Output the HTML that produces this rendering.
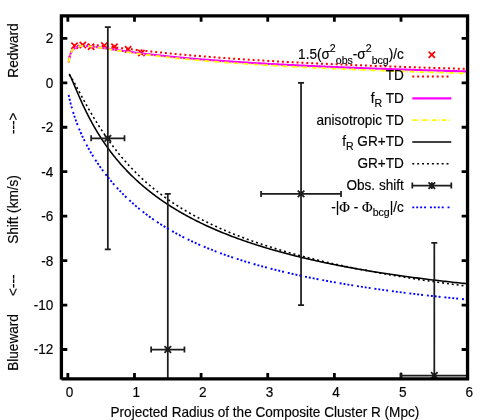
<!DOCTYPE html>
<html><head><meta charset="utf-8"><title>plot</title>
<style>html,body{margin:0;padding:0;background:#fff;}svg{display:block;}text{font-family:"Liberation Sans",sans-serif;fill:#000;stroke:#000;stroke-width:0.15px;}</style>
</head><body>
<div style="will-change:transform;width:491px;height:420px">
<svg width="491" height="420" viewBox="0 0 491 420">
<rect x="0" y="0" width="491" height="420" fill="#fff"/>
<defs><clipPath id="cp"><rect x="61.4" y="15.9" width="406.15000000000003" height="363.0"/></clipPath></defs>
<path d="M67.85,378.9 V373.0 M67.85,15.9 V21.8 M134.48,378.9 V373.0 M134.48,15.9 V21.8 M201.11,378.9 V373.0 M201.11,15.9 V21.8 M267.74,378.9 V373.0 M267.74,15.9 V21.8 M334.37,378.9 V373.0 M334.37,15.9 V21.8 M401.00,378.9 V373.0 M401.00,15.9 V21.8 M467.63,378.9 V373.0 M467.63,15.9 V21.8 M61.4,349.50 H67.3 M467.55,349.50 H461.65000000000003 M61.4,305.05 H67.3 M467.55,305.05 H461.65000000000003 M61.4,260.60 H67.3 M467.55,260.60 H461.65000000000003 M61.4,216.15 H67.3 M467.55,216.15 H461.65000000000003 M61.4,171.70 H67.3 M467.55,171.70 H461.65000000000003 M61.4,127.25 H67.3 M467.55,127.25 H461.65000000000003 M61.4,82.80 H67.3 M467.55,82.80 H461.65000000000003 M61.4,38.35 H67.3 M467.55,38.35 H461.65000000000003" stroke="#000" stroke-width="2.8" fill="none"/>
<text transform="translate(69.55,397.20) scale(1,1.02)" font-size="13.6" text-anchor="middle">0</text>
<text transform="translate(136.18,397.20) scale(1,1.02)" font-size="13.6" text-anchor="middle">1</text>
<text transform="translate(202.81,397.20) scale(1,1.02)" font-size="13.6" text-anchor="middle">2</text>
<text transform="translate(269.44,397.20) scale(1,1.02)" font-size="13.6" text-anchor="middle">3</text>
<text transform="translate(336.07,397.20) scale(1,1.02)" font-size="13.6" text-anchor="middle">4</text>
<text transform="translate(402.70,397.20) scale(1,1.02)" font-size="13.6" text-anchor="middle">5</text>
<text transform="translate(469.33,397.20) scale(1,1.02)" font-size="13.6" text-anchor="middle">6</text>
<text transform="translate(53.30,354.40) scale(1,1.02)" font-size="13.6" text-anchor="end">-12</text>
<text transform="translate(53.30,309.95) scale(1,1.02)" font-size="13.6" text-anchor="end">-10</text>
<text transform="translate(53.30,265.50) scale(1,1.02)" font-size="13.6" text-anchor="end">-8</text>
<text transform="translate(53.30,221.05) scale(1,1.02)" font-size="13.6" text-anchor="end">-6</text>
<text transform="translate(53.30,176.60) scale(1,1.02)" font-size="13.6" text-anchor="end">-4</text>
<text transform="translate(53.30,132.15) scale(1,1.02)" font-size="13.6" text-anchor="end">-2</text>
<text transform="translate(53.30,87.70) scale(1,1.02)" font-size="13.6" text-anchor="end">0</text>
<text transform="translate(53.30,43.25) scale(1,1.02)" font-size="13.6" text-anchor="end">2</text>
<g clip-path="url(#cp)" fill="none">
<path d="M71.35,42.550000000000004 L77.65,48.85 M71.35,48.85 L77.65,42.550000000000004 M79.64999999999999,41.85 L85.95,48.15 M79.64999999999999,48.15 L85.95,41.85 M87.94999999999999,43.550000000000004 L94.25,49.85 M87.94999999999999,49.85 L94.25,43.550000000000004 M101.25,42.45 L107.55000000000001,48.75 M101.25,48.75 L107.55000000000001,42.45 M111.35,43.550000000000004 L117.65,49.85 M111.35,49.85 L117.65,43.550000000000004 M124.94999999999999,46.15 L131.25,52.449999999999996 M124.94999999999999,52.449999999999996 L131.25,46.15 M138.25,49.85 L144.55,56.15 M138.25,56.15 L144.55,49.85" stroke="#f00" stroke-width="1.7"/>
<path d="M68.72,62.27 L68.81,61.51 L68.90,60.78 L69.00,60.08 L69.11,59.40 L69.22,58.75 L69.33,58.12 L69.45,57.52 L69.57,56.94 L69.70,56.38 L69.83,55.84 L69.97,55.33 L70.11,54.83 L70.26,54.35 L70.41,53.89 L70.56,53.45 L70.72,53.02 L70.89,52.61 L71.06,52.22 L71.23,51.84 L71.41,51.47 L71.59,51.13 L71.78,50.79 L71.97,50.47 L72.17,50.16 L72.37,49.86 L72.57,49.58 L72.78,49.31 L73.00,49.05 L73.22,48.80 L73.44,48.56 L73.67,48.33 L73.90,48.11 L74.14,47.90 L74.38,47.70 L74.63,47.51 L74.88,47.33 L75.13,47.15 L75.39,46.99 L75.66,46.83 L75.93,46.68 L76.20,46.54 L76.48,46.40 L76.76,46.27 L77.05,46.15 L77.34,46.03 L77.64,45.92 L77.94,45.82 L78.24,45.72 L78.56,45.63 L78.87,45.55 L79.19,45.46 L79.51,45.39 L79.84,45.32 L80.18,45.25 L80.51,45.19 L80.86,45.14 L81.20,45.08 L81.55,45.04 L81.91,44.99 L82.27,44.95 L82.64,44.92 L83.01,44.89 L83.38,44.86 L83.76,44.83 L84.14,44.81 L84.53,44.79 L84.92,44.78 L85.32,44.77 L85.72,44.76 L86.13,44.76 L86.54,44.75 L86.95,44.76 L87.37,44.76 L87.80,44.77 L88.23,44.77 L88.66,44.79 L89.10,44.80 L89.54,44.82 L89.99,44.84 L90.44,44.86 L90.90,44.88 L91.36,44.91 L91.82,44.93 L92.29,44.96 L92.77,44.99 L93.25,45.03 L93.73,45.06 L94.22,45.10 L94.71,45.14 L95.21,45.18 L95.71,45.22 L96.22,45.27 L96.73,45.31 L97.25,45.36 L97.77,45.41 L98.29,45.46 L98.82,45.51 L99.36,45.56 L99.89,45.62 L100.44,45.67 L100.99,45.73 L101.54,45.79 L102.10,45.85 L102.66,45.91 L103.22,45.97 L103.79,46.03 L104.37,46.10 L104.95,46.16 L105.53,46.23 L106.12,46.29 L106.71,46.36 L107.31,46.43 L107.92,46.50 L108.52,46.57 L109.13,46.64 L109.75,46.72 L110.37,46.79 L111.00,46.86 L111.63,46.94 L112.26,47.01 L112.90,47.09 L113.54,47.17 L114.19,47.24 L114.84,47.32 L115.50,47.40 L116.16,47.48 L116.83,47.56 L117.50,47.64 L118.18,47.72 L118.86,47.81 L119.54,47.89 L120.23,47.97 L120.93,48.06 L121.62,48.14 L122.33,48.22 L123.03,48.31 L123.75,48.40 L124.46,48.48 L125.18,48.57 L125.91,48.65 L126.64,48.74 L127.38,48.83 L128.12,48.92 L128.86,49.01 L129.61,49.09 L130.36,49.18 L131.12,49.27 L131.88,49.36 L132.65,49.45 L133.42,49.54 L134.20,49.63 L134.98,49.72 L135.76,49.81 L136.55,49.90 L137.35,50.00 L138.15,50.09 L138.95,50.18 L139.76,50.27 L140.57,50.36 L141.39,50.45 L142.21,50.55 L143.03,50.64 L143.87,50.73 L144.70,50.83 L145.54,50.92 L146.39,51.01 L147.23,51.10 L148.09,51.20 L148.95,51.29 L149.81,51.38 L150.68,51.48 L151.55,51.57 L152.42,51.67 L153.31,51.76 L154.19,51.85 L155.08,51.95 L155.98,52.04 L156.88,52.13 L157.78,52.23 L158.69,52.32 L159.60,52.42 L160.52,52.51 L161.44,52.60 L162.37,52.70 L163.30,52.79 L164.23,52.89 L165.18,52.98 L166.12,53.07 L167.07,53.17 L168.02,53.26 L168.98,53.35 L169.95,53.45 L170.91,53.54 L171.89,53.64 L172.86,53.73 L173.84,53.82 L174.83,53.92 L175.82,54.01 L176.82,54.10 L177.82,54.20 L178.82,54.29 L179.83,54.38 L180.84,54.47 L181.86,54.57 L182.88,54.66 L183.91,54.75 L184.94,54.84 L185.98,54.94 L187.02,55.03 L188.07,55.12 L189.12,55.21 L190.17,55.30 L191.23,55.40 L192.29,55.49 L193.36,55.58 L194.43,55.67 L195.51,55.76 L196.59,55.85 L197.68,55.94 L198.77,56.03 L199.87,56.12 L200.97,56.21 L202.07,56.30 L203.18,56.39 L204.29,56.48 L205.41,56.57 L206.54,56.66 L207.66,56.75 L208.80,56.84 L209.93,56.93 L211.07,57.02 L212.22,57.11 L213.37,57.20 L214.53,57.28 L215.69,57.37 L216.85,57.46 L218.02,57.55 L219.19,57.64 L220.37,57.72 L221.55,57.81 L222.74,57.90 L223.93,57.98 L225.13,58.07 L226.33,58.16 L227.53,58.24 L228.74,58.33 L229.96,58.41 L231.18,58.50 L232.40,58.58 L233.63,58.67 L234.86,58.75 L236.10,58.84 L237.34,58.92 L238.58,59.01 L239.84,59.09 L241.09,59.18 L242.35,59.26 L243.62,59.34 L244.88,59.43 L246.16,59.51 L247.44,59.59 L248.72,59.67 L250.01,59.76 L251.30,59.84 L252.60,59.92 L253.90,60.00 L255.20,60.08 L256.51,60.16 L257.83,60.25 L259.15,60.33 L260.47,60.41 L261.80,60.49 L263.13,60.57 L264.47,60.65 L265.81,60.73 L267.16,60.81 L268.51,60.89 L269.87,60.96 L271.23,61.04 L272.59,61.12 L273.96,61.20 L275.34,61.28 L276.71,61.36 L278.10,61.43 L279.49,61.51 L280.88,61.59 L282.27,61.67 L283.68,61.74 L285.08,61.82 L286.49,61.90 L287.91,61.97 L289.33,62.05 L290.75,62.12 L292.18,62.20 L293.62,62.27 L295.05,62.35 L296.50,62.42 L297.94,62.50 L299.40,62.57 L300.85,62.65 L302.31,62.72 L303.78,62.79 L305.25,62.87 L306.72,62.94 L308.20,63.01 L309.69,63.08 L311.17,63.16 L312.67,63.23 L314.16,63.30 L315.67,63.37 L317.17,63.44 L318.68,63.52 L320.20,63.59 L321.72,63.66 L323.24,63.73 L324.77,63.80 L326.31,63.87 L327.85,63.94 L329.39,64.01 L330.94,64.08 L332.49,64.15 L334.05,64.22 L335.61,64.29 L337.17,64.35 L338.74,64.42 L340.32,64.49 L341.90,64.56 L343.48,64.63 L345.07,64.69 L346.66,64.76 L348.26,64.83 L349.87,64.90 L351.47,64.96 L353.08,65.03 L354.70,65.09 L356.32,65.16 L357.95,65.23 L359.58,65.29 L361.21,65.36 L362.85,65.42 L364.49,65.49 L366.14,65.55 L367.79,65.62 L369.45,65.68 L371.11,65.74 L372.78,65.81 L374.45,65.87 L376.13,65.94 L377.81,66.00 L379.49,66.06 L381.18,66.12 L382.87,66.19 L384.57,66.25 L386.27,66.31 L387.98,66.37 L389.69,66.44 L391.41,66.50 L393.13,66.56 L394.86,66.62 L396.59,66.68 L398.32,66.74 L400.06,66.80 L401.81,66.86 L403.55,66.92 L405.31,66.98 L407.07,67.04 L408.83,67.10 L410.59,67.16 L412.37,67.22 L414.14,67.28 L415.92,67.34 L417.71,67.40 L419.50,67.46 L421.29,67.51 L423.09,67.57 L424.89,67.63 L426.70,67.69 L428.51,67.74 L430.33,67.80 L432.15,67.86 L433.98,67.92 L435.81,67.97 L437.64,68.03 L439.48,68.08 L441.33,68.14 L443.18,68.20 L445.03,68.25 L446.89,68.31 L448.75,68.36 L450.62,68.42 L452.49,68.47 L454.37,68.53 L456.25,68.58 L458.13,68.64 L460.02,68.69 L461.92,68.75 L463.82,68.80 L465.72,68.85 L467.63,68.91" stroke="#f00" stroke-width="2" stroke-dasharray="1.96 2.93"/>
<path d="M68.72,62.16 L68.81,61.42 L68.90,60.71 L69.00,60.03 L69.11,59.38 L69.22,58.75 L69.33,58.16 L69.45,57.59 L69.57,57.04 L69.70,56.51 L69.83,56.00 L69.97,55.52 L70.11,55.05 L70.26,54.60 L70.41,54.17 L70.56,53.76 L70.72,53.36 L70.89,52.97 L71.06,52.61 L71.23,52.25 L71.41,51.91 L71.59,51.59 L71.78,51.27 L71.97,50.97 L72.17,50.68 L72.37,50.41 L72.57,50.14 L72.78,49.89 L73.00,49.64 L73.22,49.41 L73.44,49.19 L73.67,48.97 L73.90,48.77 L74.14,48.58 L74.38,48.39 L74.63,48.21 L74.88,48.04 L75.13,47.88 L75.39,47.73 L75.66,47.59 L75.93,47.45 L76.20,47.32 L76.48,47.20 L76.76,47.08 L77.05,46.98 L77.34,46.87 L77.64,46.78 L77.94,46.69 L78.24,46.61 L78.56,46.53 L78.87,46.46 L79.19,46.39 L79.51,46.33 L79.84,46.28 L80.18,46.23 L80.51,46.18 L80.86,46.14 L81.20,46.11 L81.55,46.08 L81.91,46.05 L82.27,46.03 L82.64,46.01 L83.01,46.00 L83.38,45.99 L83.76,45.98 L84.14,45.98 L84.53,45.98 L84.92,45.99 L85.32,46.00 L85.72,46.01 L86.13,46.02 L86.54,46.04 L86.95,46.06 L87.37,46.09 L87.80,46.12 L88.23,46.15 L88.66,46.18 L89.10,46.22 L89.54,46.25 L89.99,46.29 L90.44,46.34 L90.90,46.38 L91.36,46.43 L91.82,46.48 L92.29,46.53 L92.77,46.59 L93.25,46.64 L93.73,46.70 L94.22,46.76 L94.71,46.82 L95.21,46.89 L95.71,46.95 L96.22,47.02 L96.73,47.09 L97.25,47.16 L97.77,47.23 L98.29,47.30 L98.82,47.38 L99.36,47.45 L99.89,47.53 L100.44,47.61 L100.99,47.69 L101.54,47.77 L102.10,47.85 L102.66,47.93 L103.22,48.01 L103.79,48.10 L104.37,48.18 L104.95,48.27 L105.53,48.36 L106.12,48.45 L106.71,48.54 L107.31,48.63 L107.92,48.72 L108.52,48.81 L109.13,48.90 L109.75,48.99 L110.37,49.08 L111.00,49.18 L111.63,49.27 L112.26,49.37 L112.90,49.46 L113.54,49.56 L114.19,49.66 L114.84,49.75 L115.50,49.85 L116.16,49.95 L116.83,50.05 L117.50,50.14 L118.18,50.24 L118.86,50.34 L119.54,50.44 L120.23,50.54 L120.93,50.64 L121.62,50.74 L122.33,50.84 L123.03,50.94 L123.75,51.04 L124.46,51.14 L125.18,51.25 L125.91,51.35 L126.64,51.45 L127.38,51.55 L128.12,51.65 L128.86,51.75 L129.61,51.86 L130.36,51.96 L131.12,52.06 L131.88,52.16 L132.65,52.26 L133.42,52.37 L134.20,52.47 L134.98,52.57 L135.76,52.67 L136.55,52.77 L137.35,52.88 L138.15,52.98 L138.95,53.08 L139.76,53.18 L140.57,53.28 L141.39,53.39 L142.21,53.49 L143.03,53.59 L143.87,53.69 L144.70,53.79 L145.54,53.89 L146.39,53.99 L147.23,54.10 L148.09,54.20 L148.95,54.30 L149.81,54.40 L150.68,54.50 L151.55,54.60 L152.42,54.70 L153.31,54.80 L154.19,54.90 L155.08,55.00 L155.98,55.10 L156.88,55.20 L157.78,55.30 L158.69,55.40 L159.60,55.50 L160.52,55.59 L161.44,55.69 L162.37,55.79 L163.30,55.89 L164.23,55.99 L165.18,56.09 L166.12,56.18 L167.07,56.28 L168.02,56.38 L168.98,56.47 L169.95,56.57 L170.91,56.67 L171.89,56.76 L172.86,56.86 L173.84,56.95 L174.83,57.05 L175.82,57.15 L176.82,57.24 L177.82,57.34 L178.82,57.43 L179.83,57.52 L180.84,57.62 L181.86,57.71 L182.88,57.81 L183.91,57.90 L184.94,57.99 L185.98,58.08 L187.02,58.18 L188.07,58.27 L189.12,58.36 L190.17,58.45 L191.23,58.54 L192.29,58.64 L193.36,58.73 L194.43,58.82 L195.51,58.91 L196.59,59.00 L197.68,59.09 L198.77,59.18 L199.87,59.27 L200.97,59.36 L202.07,59.45 L203.18,59.53 L204.29,59.62 L205.41,59.71 L206.54,59.80 L207.66,59.89 L208.80,59.97 L209.93,60.06 L211.07,60.15 L212.22,60.23 L213.37,60.32 L214.53,60.41 L215.69,60.49 L216.85,60.58 L218.02,60.66 L219.19,60.75 L220.37,60.83 L221.55,60.92 L222.74,61.00 L223.93,61.09 L225.13,61.17 L226.33,61.25 L227.53,61.34 L228.74,61.42 L229.96,61.50 L231.18,61.58 L232.40,61.67 L233.63,61.75 L234.86,61.83 L236.10,61.91 L237.34,61.99 L238.58,62.07 L239.84,62.15 L241.09,62.23 L242.35,62.31 L243.62,62.39 L244.88,62.47 L246.16,62.55 L247.44,62.63 L248.72,62.71 L250.01,62.79 L251.30,62.87 L252.60,62.95 L253.90,63.02 L255.20,63.10 L256.51,63.18 L257.83,63.26 L259.15,63.33 L260.47,63.41 L261.80,63.48 L263.13,63.56 L264.47,63.64 L265.81,63.71 L267.16,63.79 L268.51,63.86 L269.87,63.94 L271.23,64.01 L272.59,64.09 L273.96,64.16 L275.34,64.23 L276.71,64.31 L278.10,64.38 L279.49,64.45 L280.88,64.53 L282.27,64.60 L283.68,64.67 L285.08,64.75 L286.49,64.82 L287.91,64.89 L289.33,64.96 L290.75,65.03 L292.18,65.10 L293.62,65.17 L295.05,65.24 L296.50,65.32 L297.94,65.39 L299.40,65.46 L300.85,65.53 L302.31,65.59 L303.78,65.66 L305.25,65.73 L306.72,65.80 L308.20,65.87 L309.69,65.94 L311.17,66.01 L312.67,66.08 L314.16,66.14 L315.67,66.21 L317.17,66.28 L318.68,66.34 L320.20,66.41 L321.72,66.48 L323.24,66.54 L324.77,66.61 L326.31,66.68 L327.85,66.74 L329.39,66.81 L330.94,66.87 L332.49,66.94 L334.05,67.00 L335.61,67.07 L337.17,67.13 L338.74,67.20 L340.32,67.26 L341.90,67.33 L343.48,67.39 L345.07,67.45 L346.66,67.52 L348.26,67.58 L349.87,67.64 L351.47,67.71 L353.08,67.77 L354.70,67.83 L356.32,67.89 L357.95,67.96 L359.58,68.02 L361.21,68.08 L362.85,68.14 L364.49,68.20 L366.14,68.26 L367.79,68.32 L369.45,68.38 L371.11,68.45 L372.78,68.51 L374.45,68.57 L376.13,68.63 L377.81,68.69 L379.49,68.75 L381.18,68.80 L382.87,68.86 L384.57,68.92 L386.27,68.98 L387.98,69.04 L389.69,69.10 L391.41,69.16 L393.13,69.22 L394.86,69.27 L396.59,69.33 L398.32,69.39 L400.06,69.45 L401.81,69.50 L403.55,69.56 L405.31,69.62 L407.07,69.67 L408.83,69.73 L410.59,69.79 L412.37,69.84 L414.14,69.90 L415.92,69.96 L417.71,70.01 L419.50,70.07 L421.29,70.12 L423.09,70.18 L424.89,70.23 L426.70,70.29 L428.51,70.34 L430.33,70.40 L432.15,70.45 L433.98,70.51 L435.81,70.56 L437.64,70.61 L439.48,70.67 L441.33,70.72 L443.18,70.78 L445.03,70.83 L446.89,70.88 L448.75,70.93 L450.62,70.99 L452.49,71.04 L454.37,71.09 L456.25,71.15 L458.13,71.20 L460.02,71.25 L461.92,71.30 L463.82,71.35 L465.72,71.41 L467.63,71.46" stroke="#f0f" stroke-width="2.1"/>
<path d="M68.72,62.17 L68.81,61.43 L68.90,60.72 L69.00,60.04 L69.11,59.39 L69.22,58.77 L69.33,58.17 L69.45,57.60 L69.57,57.05 L69.70,56.53 L69.83,56.02 L69.97,55.53 L70.11,55.06 L70.26,54.61 L70.41,54.18 L70.56,53.76 L70.72,53.36 L70.89,52.98 L71.06,52.61 L71.23,52.25 L71.41,51.91 L71.59,51.58 L71.78,51.26 L71.97,50.96 L72.17,50.67 L72.37,50.39 L72.57,50.12 L72.78,49.87 L73.00,49.62 L73.22,49.39 L73.44,49.16 L73.67,48.95 L73.90,48.74 L74.14,48.54 L74.38,48.36 L74.63,48.18 L74.88,48.01 L75.13,47.85 L75.39,47.70 L75.66,47.55 L75.93,47.41 L76.20,47.28 L76.48,47.16 L76.76,47.05 L77.05,46.94 L77.34,46.84 L77.64,46.74 L77.94,46.65 L78.24,46.57 L78.56,46.49 L78.87,46.42 L79.19,46.36 L79.51,46.30 L79.84,46.24 L80.18,46.20 L80.51,46.15 L80.86,46.11 L81.20,46.08 L81.55,46.05 L81.91,46.03 L82.27,46.01 L82.64,45.99 L83.01,45.98 L83.38,45.98 L83.76,45.98 L84.14,45.98 L84.53,45.98 L84.92,45.99 L85.32,46.00 L85.72,46.02 L86.13,46.04 L86.54,46.06 L86.95,46.09 L87.37,46.12 L87.80,46.15 L88.23,46.18 L88.66,46.22 L89.10,46.26 L89.54,46.31 L89.99,46.35 L90.44,46.40 L90.90,46.45 L91.36,46.51 L91.82,46.56 L92.29,46.62 L92.77,46.68 L93.25,46.74 L93.73,46.81 L94.22,46.87 L94.71,46.94 L95.21,47.01 L95.71,47.08 L96.22,47.16 L96.73,47.23 L97.25,47.31 L97.77,47.39 L98.29,47.47 L98.82,47.55 L99.36,47.63 L99.89,47.72 L100.44,47.80 L100.99,47.89 L101.54,47.98 L102.10,48.06 L102.66,48.15 L103.22,48.25 L103.79,48.34 L104.37,48.43 L104.95,48.53 L105.53,48.62 L106.12,48.72 L106.71,48.82 L107.31,48.91 L107.92,49.01 L108.52,49.11 L109.13,49.21 L109.75,49.31 L110.37,49.41 L111.00,49.52 L111.63,49.62 L112.26,49.72 L112.90,49.83 L113.54,49.93 L114.19,50.04 L114.84,50.14 L115.50,50.25 L116.16,50.35 L116.83,50.46 L117.50,50.57 L118.18,50.67 L118.86,50.78 L119.54,50.89 L120.23,51.00 L120.93,51.11 L121.62,51.22 L122.33,51.32 L123.03,51.43 L123.75,51.54 L124.46,51.65 L125.18,51.76 L125.91,51.87 L126.64,51.98 L127.38,52.09 L128.12,52.20 L128.86,52.31 L129.61,52.43 L130.36,52.54 L131.12,52.65 L131.88,52.76 L132.65,52.87 L133.42,52.98 L134.20,53.09 L134.98,53.20 L135.76,53.31 L136.55,53.42 L137.35,53.53 L138.15,53.64 L138.95,53.75 L139.76,53.86 L140.57,53.98 L141.39,54.09 L142.21,54.20 L143.03,54.31 L143.87,54.42 L144.70,54.53 L145.54,54.64 L146.39,54.75 L147.23,54.85 L148.09,54.96 L148.95,55.07 L149.81,55.18 L150.68,55.29 L151.55,55.40 L152.42,55.51 L153.31,55.62 L154.19,55.73 L155.08,55.83 L155.98,55.94 L156.88,56.05 L157.78,56.16 L158.69,56.26 L159.60,56.37 L160.52,56.48 L161.44,56.58 L162.37,56.69 L163.30,56.80 L164.23,56.90 L165.18,57.01 L166.12,57.11 L167.07,57.22 L168.02,57.32 L168.98,57.43 L169.95,57.53 L170.91,57.64 L171.89,57.74 L172.86,57.84 L173.84,57.95 L174.83,58.05 L175.82,58.15 L176.82,58.25 L177.82,58.36 L178.82,58.46 L179.83,58.56 L180.84,58.66 L181.86,58.76 L182.88,58.86 L183.91,58.96 L184.94,59.07 L185.98,59.17 L187.02,59.26 L188.07,59.36 L189.12,59.46 L190.17,59.56 L191.23,59.66 L192.29,59.76 L193.36,59.86 L194.43,59.95 L195.51,60.05 L196.59,60.15 L197.68,60.25 L198.77,60.34 L199.87,60.44 L200.97,60.54 L202.07,60.63 L203.18,60.73 L204.29,60.82 L205.41,60.92 L206.54,61.01 L207.66,61.10 L208.80,61.20 L209.93,61.29 L211.07,61.39 L212.22,61.48 L213.37,61.57 L214.53,61.66 L215.69,61.76 L216.85,61.85 L218.02,61.94 L219.19,62.03 L220.37,62.12 L221.55,62.21 L222.74,62.30 L223.93,62.39 L225.13,62.48 L226.33,62.57 L227.53,62.66 L228.74,62.75 L229.96,62.84 L231.18,62.93 L232.40,63.01 L233.63,63.10 L234.86,63.19 L236.10,63.28 L237.34,63.36 L238.58,63.45 L239.84,63.54 L241.09,63.62 L242.35,63.71 L243.62,63.79 L244.88,63.88 L246.16,63.96 L247.44,64.05 L248.72,64.13 L250.01,64.22 L251.30,64.30 L252.60,64.38 L253.90,64.47 L255.20,64.55 L256.51,64.63 L257.83,64.71 L259.15,64.80 L260.47,64.88 L261.80,64.96 L263.13,65.04 L264.47,65.12 L265.81,65.20 L267.16,65.28 L268.51,65.36 L269.87,65.44 L271.23,65.52 L272.59,65.60 L273.96,65.68 L275.34,65.76 L276.71,65.84 L278.10,65.92 L279.49,65.99 L280.88,66.07 L282.27,66.15 L283.68,66.23 L285.08,66.30 L286.49,66.38 L287.91,66.46 L289.33,66.53 L290.75,66.61 L292.18,66.68 L293.62,66.76 L295.05,66.84 L296.50,66.91 L297.94,66.98 L299.40,67.06 L300.85,67.13 L302.31,67.21 L303.78,67.28 L305.25,67.35 L306.72,67.43 L308.20,67.50 L309.69,67.57 L311.17,67.65 L312.67,67.72 L314.16,67.79 L315.67,67.86 L317.17,67.93 L318.68,68.00 L320.20,68.08 L321.72,68.15 L323.24,68.22 L324.77,68.29 L326.31,68.36 L327.85,68.43 L329.39,68.50 L330.94,68.57 L332.49,68.63 L334.05,68.70 L335.61,68.77 L337.17,68.84 L338.74,68.91 L340.32,68.98 L341.90,69.04 L343.48,69.11 L345.07,69.18 L346.66,69.25 L348.26,69.31 L349.87,69.38 L351.47,69.45 L353.08,69.51 L354.70,69.58 L356.32,69.64 L357.95,69.71 L359.58,69.78 L361.21,69.84 L362.85,69.91 L364.49,69.97 L366.14,70.04 L367.79,70.10 L369.45,70.16 L371.11,70.23 L372.78,70.29 L374.45,70.35 L376.13,70.42 L377.81,70.48 L379.49,70.54 L381.18,70.61 L382.87,70.67 L384.57,70.73 L386.27,70.79 L387.98,70.86 L389.69,70.92 L391.41,70.98 L393.13,71.04 L394.86,71.10 L396.59,71.16 L398.32,71.22 L400.06,71.28 L401.81,71.34 L403.55,71.40 L405.31,71.46 L407.07,71.52 L408.83,71.58 L410.59,71.64 L412.37,71.70 L414.14,71.76 L415.92,71.82 L417.71,71.88 L419.50,71.94 L421.29,71.99 L423.09,72.05 L424.89,72.11 L426.70,72.17 L428.51,72.23 L430.33,72.28 L432.15,72.34 L433.98,72.40 L435.81,72.45 L437.64,72.51 L439.48,72.57 L441.33,72.62 L443.18,72.68 L445.03,72.74 L446.89,72.79 L448.75,72.85 L450.62,72.90 L452.49,72.96 L454.37,73.01 L456.25,73.07 L458.13,73.12 L460.02,73.18 L461.92,73.23 L463.82,73.29 L465.72,73.34 L467.63,73.39" stroke="#ff0" stroke-width="1.8" stroke-dasharray="4.89 1.96 0.98 1.96"/>
<path d="M69.18,73.79 L69.29,74.00 L69.41,74.23 L69.53,74.47 L69.65,74.71 L69.78,74.98 L69.92,75.25 L70.05,75.54 L70.20,75.83 L70.34,76.15 L70.50,76.47 L70.65,76.80 L70.81,77.15 L70.98,77.51 L71.15,77.89 L71.32,78.27 L71.50,78.67 L71.68,79.09 L71.87,79.51 L72.06,79.95 L72.25,80.40 L72.46,80.86 L72.66,81.33 L72.87,81.82 L73.08,82.32 L73.30,82.83 L73.52,83.35 L73.75,83.88 L73.98,84.43 L74.22,84.99 L74.46,85.55 L74.70,86.13 L74.95,86.72 L75.21,87.32 L75.47,87.93 L75.73,88.55 L76.00,89.18 L76.27,89.82 L76.54,90.47 L76.83,91.12 L77.11,91.79 L77.40,92.47 L77.69,93.15 L77.99,93.84 L78.30,94.54 L78.60,95.25 L78.92,95.97 L79.23,96.69 L79.55,97.42 L79.88,98.15 L80.21,98.90 L80.54,99.65 L80.88,100.40 L81.22,101.16 L81.57,101.93 L81.92,102.70 L82.28,103.48 L82.64,104.26 L83.01,105.05 L83.38,105.84 L83.75,106.63 L84.13,107.43 L84.51,108.24 L84.90,109.04 L85.29,109.86 L85.69,110.67 L86.09,111.49 L86.50,112.31 L86.91,113.13 L87.32,113.96 L87.74,114.79 L88.16,115.62 L88.59,116.45 L89.02,117.28 L89.46,118.12 L89.90,118.96 L90.35,119.80 L90.80,120.64 L91.25,121.48 L91.71,122.33 L92.17,123.17 L92.64,124.02 L93.11,124.86 L93.59,125.71 L94.07,126.56 L94.56,127.40 L95.05,128.25 L95.54,129.10 L96.04,129.94 L96.55,130.79 L97.05,131.64 L97.57,132.49 L98.08,133.33 L98.60,134.18 L99.13,135.02 L99.66,135.87 L100.20,136.71 L100.74,137.55 L101.28,138.40 L101.83,139.24 L102.38,140.08 L102.94,140.91 L103.50,141.75 L104.06,142.59 L104.64,143.42 L105.21,144.25 L105.79,145.08 L106.37,145.91 L106.96,146.74 L107.55,147.57 L108.15,148.39 L108.75,149.22 L109.36,150.04 L109.97,150.86 L110.59,151.67 L111.21,152.49 L111.83,153.30 L112.46,154.11 L113.09,154.92 L113.73,155.73 L114.37,156.53 L115.02,157.33 L115.67,158.13 L116.32,158.93 L116.98,159.72 L117.65,160.52 L118.32,161.31 L118.99,162.09 L119.67,162.88 L120.35,163.66 L121.03,164.44 L121.73,165.22 L122.42,165.99 L123.12,166.77 L123.82,167.54 L124.53,168.30 L125.25,169.07 L125.96,169.83 L126.69,170.59 L127.41,171.34 L128.14,172.10 L128.88,172.85 L129.62,173.60 L130.36,174.34 L131.11,175.08 L131.87,175.82 L132.62,176.56 L133.39,177.29 L134.15,178.03 L134.92,178.75 L135.70,179.48 L136.48,180.20 L137.27,180.92 L138.05,181.64 L138.85,182.35 L139.65,183.06 L140.45,183.77 L141.25,184.48 L142.07,185.18 L142.88,185.88 L143.70,186.58 L144.53,187.27 L145.36,187.96 L146.19,188.65 L147.03,189.33 L147.87,190.01 L148.72,190.69 L149.57,191.37 L150.42,192.04 L151.29,192.71 L152.15,193.38 L153.02,194.04 L153.89,194.71 L154.77,195.36 L155.65,196.02 L156.54,196.67 L157.43,197.32 L158.33,197.97 L159.23,198.61 L160.13,199.26 L161.04,199.89 L161.96,200.53 L162.88,201.16 L163.80,201.79 L164.73,202.42 L165.66,203.04 L166.59,203.66 L167.53,204.28 L168.48,204.90 L169.43,205.51 L170.38,206.12 L171.34,206.72 L172.30,207.33 L173.27,207.93 L174.24,208.53 L175.22,209.12 L176.20,209.72 L177.19,210.31 L178.18,210.89 L179.17,211.48 L180.17,212.06 L181.17,212.64 L182.18,213.21 L183.19,213.79 L184.21,214.36 L185.23,214.93 L186.25,215.49 L187.28,216.05 L188.32,216.61 L189.36,217.17 L190.40,217.72 L191.45,218.28 L192.50,218.82 L193.56,219.37 L194.62,219.91 L195.68,220.45 L196.75,220.99 L197.83,221.53 L198.91,222.06 L199.99,222.59 L201.08,223.12 L202.17,223.64 L203.27,224.17 L204.37,224.69 L205.47,225.20 L206.58,225.72 L207.70,226.23 L208.82,226.74 L209.94,227.25 L211.07,227.75 L212.20,228.25 L213.34,228.75 L214.48,229.25 L215.62,229.74 L216.77,230.24 L217.93,230.73 L219.09,231.21 L220.25,231.70 L221.42,232.18 L222.59,232.66 L223.77,233.14 L224.95,233.61 L226.14,234.08 L227.33,234.55 L228.52,235.02 L229.72,235.49 L230.93,235.95 L232.13,236.41 L233.35,236.87 L234.56,237.32 L235.78,237.78 L237.01,238.23 L238.24,238.68 L239.48,239.12 L240.72,239.57 L241.96,240.01 L243.21,240.45 L244.46,240.88 L245.72,241.32 L246.98,241.75 L248.25,242.18 L249.52,242.61 L250.79,243.04 L252.07,243.46 L253.36,243.88 L254.64,244.30 L255.94,244.72 L257.23,245.13 L258.54,245.55 L259.84,245.96 L261.15,246.36 L262.47,246.77 L263.79,247.17 L265.11,247.58 L266.44,247.98 L267.77,248.37 L269.11,248.77 L270.45,249.16 L271.80,249.55 L273.15,249.94 L274.51,250.33 L275.87,250.72 L277.23,251.10 L278.60,251.48 L279.97,251.86 L281.35,252.24 L282.73,252.61 L284.12,252.98 L285.51,253.35 L286.90,253.72 L288.30,254.09 L289.71,254.46 L291.12,254.82 L292.53,255.18 L293.95,255.54 L295.37,255.89 L296.80,256.25 L298.23,256.60 L299.66,256.95 L301.10,257.30 L302.55,257.65 L304.00,258.00 L305.45,258.34 L306.91,258.68 L308.37,259.02 L309.84,259.36 L311.31,259.70 L312.79,260.03 L314.27,260.36 L315.75,260.69 L317.24,261.02 L318.73,261.35 L320.23,261.67 L321.73,262.00 L323.24,262.32 L324.75,262.64 L326.27,262.96 L327.79,263.27 L329.31,263.59 L330.84,263.90 L332.38,264.21 L333.91,264.52 L335.46,264.83 L337.00,265.13 L338.56,265.44 L340.11,265.74 L341.67,266.04 L343.24,266.34 L344.81,266.63 L346.38,266.93 L347.96,267.22 L349.54,267.51 L351.13,267.80 L352.72,268.09 L354.32,268.38 L355.92,268.67 L357.52,268.95 L359.13,269.23 L360.75,269.51 L362.36,269.79 L363.99,270.07 L365.61,270.34 L367.25,270.62 L368.88,270.89 L370.52,271.16 L372.17,271.43 L373.82,271.70 L375.47,271.96 L377.13,272.23 L378.79,272.49 L380.46,272.75 L382.13,273.01 L383.81,273.27 L385.49,273.53 L387.18,273.78 L388.87,274.03 L390.56,274.29 L392.26,274.54 L393.96,274.79 L395.67,275.03 L397.38,275.28 L399.10,275.52 L400.82,275.77 L402.54,276.01 L404.27,276.25 L406.01,276.49 L407.75,276.73 L409.49,276.96 L411.24,277.20 L412.99,277.43 L414.75,277.66 L416.51,277.89 L418.27,278.12 L420.04,278.35 L421.82,278.57 L423.60,278.80 L425.38,279.02 L427.17,279.24 L428.96,279.46 L430.76,279.68 L432.56,279.90 L434.36,280.12 L436.17,280.33 L437.99,280.54 L439.81,280.76 L441.63,280.97 L443.46,281.18 L445.29,281.38 L447.13,281.59 L448.97,281.80 L450.82,282.00 L452.67,282.20 L454.52,282.41 L456.38,282.61 L458.24,282.80 L460.11,283.00 L461.99,283.20 L463.86,283.39 L465.74,283.59 L467.63,283.78" stroke="#000" stroke-width="1.55"/>
<path d="M69.18,74.63 L69.29,74.76 L69.41,74.91 L69.53,75.06 L69.65,75.22 L69.78,75.39 L69.92,75.57 L70.05,75.76 L70.20,75.96 L70.34,76.17 L70.50,76.39 L70.65,76.62 L70.81,76.86 L70.98,77.11 L71.15,77.37 L71.32,77.64 L71.50,77.92 L71.68,78.21 L71.87,78.51 L72.06,78.83 L72.25,79.15 L72.46,79.48 L72.66,79.83 L72.87,80.19 L73.08,80.55 L73.30,80.93 L73.52,81.32 L73.75,81.72 L73.98,82.13 L74.22,82.55 L74.46,82.98 L74.70,83.42 L74.95,83.87 L75.21,84.33 L75.47,84.80 L75.73,85.29 L76.00,85.78 L76.27,86.28 L76.54,86.79 L76.83,87.31 L77.11,87.84 L77.40,88.38 L77.69,88.93 L77.99,89.48 L78.30,90.05 L78.60,90.62 L78.92,91.20 L79.23,91.80 L79.55,92.39 L79.88,93.00 L80.21,93.62 L80.54,94.24 L80.88,94.87 L81.22,95.51 L81.57,96.15 L81.92,96.81 L82.28,97.47 L82.64,98.13 L83.01,98.80 L83.38,99.48 L83.75,100.17 L84.13,100.86 L84.51,101.56 L84.90,102.26 L85.29,102.97 L85.69,103.69 L86.09,104.41 L86.50,105.13 L86.91,105.86 L87.32,106.60 L87.74,107.34 L88.16,108.09 L88.59,108.84 L89.02,109.59 L89.46,110.35 L89.90,111.11 L90.35,111.88 L90.80,112.65 L91.25,113.43 L91.71,114.21 L92.17,114.99 L92.64,115.78 L93.11,116.57 L93.59,117.36 L94.07,118.16 L94.56,118.96 L95.05,119.76 L95.54,120.57 L96.04,121.37 L96.55,122.18 L97.05,123.00 L97.57,123.81 L98.08,124.63 L98.60,125.45 L99.13,126.28 L99.66,127.10 L100.20,127.93 L100.74,128.76 L101.28,129.59 L101.83,130.42 L102.38,131.26 L102.94,132.10 L103.50,132.93 L104.06,133.77 L104.64,134.61 L105.21,135.45 L105.79,136.29 L106.37,137.13 L106.96,137.98 L107.55,138.82 L108.15,139.66 L108.75,140.50 L109.36,141.35 L109.97,142.19 L110.59,143.03 L111.21,143.87 L111.83,144.71 L112.46,145.56 L113.09,146.40 L113.73,147.23 L114.37,148.07 L115.02,148.91 L115.67,149.75 L116.32,150.58 L116.98,151.42 L117.65,152.25 L118.32,153.08 L118.99,153.91 L119.67,154.74 L120.35,155.57 L121.03,156.39 L121.73,157.21 L122.42,158.03 L123.12,158.85 L123.82,159.67 L124.53,160.49 L125.25,161.30 L125.96,162.11 L126.69,162.92 L127.41,163.73 L128.14,164.53 L128.88,165.34 L129.62,166.14 L130.36,166.93 L131.11,167.73 L131.87,168.52 L132.62,169.31 L133.39,170.10 L134.15,170.88 L134.92,171.67 L135.70,172.45 L136.48,173.22 L137.27,174.00 L138.05,174.77 L138.85,175.54 L139.65,176.30 L140.45,177.07 L141.25,177.83 L142.07,178.58 L142.88,179.34 L143.70,180.09 L144.53,180.83 L145.36,181.58 L146.19,182.32 L147.03,183.06 L147.87,183.79 L148.72,184.53 L149.57,185.26 L150.42,185.98 L151.29,186.71 L152.15,187.43 L153.02,188.14 L153.89,188.85 L154.77,189.56 L155.65,190.27 L156.54,190.98 L157.43,191.68 L158.33,192.37 L159.23,193.07 L160.13,193.76 L161.04,194.44 L161.96,195.13 L162.88,195.81 L163.80,196.48 L164.73,197.16 L165.66,197.83 L166.59,198.50 L167.53,199.16 L168.48,199.82 L169.43,200.48 L170.38,201.13 L171.34,201.78 L172.30,202.43 L173.27,203.07 L174.24,203.71 L175.22,204.35 L176.20,204.98 L177.19,205.61 L178.18,206.24 L179.17,206.86 L180.17,207.49 L181.17,208.10 L182.18,208.72 L183.19,209.33 L184.21,209.94 L185.23,210.54 L186.25,211.15 L187.28,211.75 L188.32,212.34 L189.36,212.94 L190.40,213.53 L191.45,214.11 L192.50,214.70 L193.56,215.28 L194.62,215.86 L195.68,216.43 L196.75,217.01 L197.83,217.58 L198.91,218.14 L199.99,218.71 L201.08,219.27 L202.17,219.83 L203.27,220.39 L204.37,220.94 L205.47,221.49 L206.58,222.04 L207.70,222.58 L208.82,223.12 L209.94,223.66 L211.07,224.20 L212.20,224.73 L213.34,225.27 L214.48,225.79 L215.62,226.32 L216.77,226.84 L217.93,227.36 L219.09,227.88 L220.25,228.40 L221.42,228.91 L222.59,229.42 L223.77,229.93 L224.95,230.44 L226.14,230.94 L227.33,231.44 L228.52,231.94 L229.72,232.44 L230.93,232.93 L232.13,233.42 L233.35,233.91 L234.56,234.39 L235.78,234.88 L237.01,235.36 L238.24,235.84 L239.48,236.32 L240.72,236.79 L241.96,237.26 L243.21,237.73 L244.46,238.20 L245.72,238.66 L246.98,239.13 L248.25,239.59 L249.52,240.05 L250.79,240.50 L252.07,240.96 L253.36,241.41 L254.64,241.86 L255.94,242.30 L257.23,242.75 L258.54,243.19 L259.84,243.63 L261.15,244.07 L262.47,244.51 L263.79,244.94 L265.11,245.37 L266.44,245.81 L267.77,246.23 L269.11,246.66 L270.45,247.08 L271.80,247.51 L273.15,247.93 L274.51,248.34 L275.87,248.76 L277.23,249.17 L278.60,249.58 L279.97,249.99 L281.35,250.40 L282.73,250.81 L284.12,251.21 L285.51,251.61 L286.90,252.02 L288.30,252.41 L289.71,252.81 L291.12,253.20 L292.53,253.60 L293.95,253.99 L295.37,254.38 L296.80,254.76 L298.23,255.15 L299.66,255.53 L301.10,255.91 L302.55,256.29 L304.00,256.67 L305.45,257.05 L306.91,257.42 L308.37,257.79 L309.84,258.16 L311.31,258.53 L312.79,258.90 L314.27,259.26 L315.75,259.63 L317.24,259.99 L318.73,260.35 L320.23,260.71 L321.73,261.07 L323.24,261.42 L324.75,261.77 L326.27,262.13 L327.79,262.48 L329.31,262.82 L330.84,263.17 L332.38,263.52 L333.91,263.86 L335.46,264.20 L337.00,264.54 L338.56,264.88 L340.11,265.22 L341.67,265.55 L343.24,265.89 L344.81,266.22 L346.38,266.55 L347.96,266.88 L349.54,267.21 L351.13,267.53 L352.72,267.86 L354.32,268.18 L355.92,268.50 L357.52,268.82 L359.13,269.14 L360.75,269.45 L362.36,269.77 L363.99,270.08 L365.61,270.40 L367.25,270.71 L368.88,271.02 L370.52,271.32 L372.17,271.63 L373.82,271.94 L375.47,272.24 L377.13,272.54 L378.79,272.84 L380.46,273.14 L382.13,273.44 L383.81,273.74 L385.49,274.03 L387.18,274.33 L388.87,274.62 L390.56,274.91 L392.26,275.20 L393.96,275.49 L395.67,275.77 L397.38,276.06 L399.10,276.34 L400.82,276.63 L402.54,276.91 L404.27,277.19 L406.01,277.47 L407.75,277.75 L409.49,278.02 L411.24,278.30 L412.99,278.57 L414.75,278.84 L416.51,279.11 L418.27,279.38 L420.04,279.65 L421.82,279.92 L423.60,280.19 L425.38,280.45 L427.17,280.71 L428.96,280.98 L430.76,281.24 L432.56,281.50 L434.36,281.76 L436.17,282.01 L437.99,282.27 L439.81,282.53 L441.63,282.78 L443.46,283.03 L445.29,283.28 L447.13,283.53 L448.97,283.78 L450.82,284.03 L452.67,284.28 L454.52,284.52 L456.38,284.77 L458.24,285.01 L460.11,285.25 L461.99,285.49 L463.86,285.73 L465.74,285.97 L467.63,286.21" stroke="#000" stroke-width="1.6" stroke-dasharray="1.96 2.93"/>
<path d="M107.83,27.24 V249.49 M104.83,27.24 H110.83 M104.83,249.49 H110.83 M91.17,138.36 H124.49 M91.17,135.36 V141.36 M124.49,135.36 V141.36 M104.53,135.06 L111.13,141.66 M104.53,141.66 L111.13,135.06 M104.53,138.36 H111.13 M107.83,135.06 V141.66 M167.79,193.93 V505.08 M164.79,193.93 H170.79 M164.79,505.08 H170.79 M151.14,349.50 H184.45 M151.14,346.50 V352.50 M184.45,346.50 V352.50 M164.49,346.20 L171.09,352.80 M164.49,352.80 L171.09,346.20 M164.49,349.50 H171.09 M167.79,346.20 V352.80 M301.05,82.80 V305.05 M298.05,82.80 H304.05 M298.05,305.05 H304.05 M261.08,193.93 H341.03 M261.08,190.93 V196.93 M341.03,190.93 V196.93 M297.75,190.62 L304.35,197.23 M297.75,197.23 L304.35,190.62 M297.75,193.93 H304.35 M301.05,190.62 V197.23 M434.31,242.82 V508.85 M431.31,242.82 H437.31 M431.31,508.85 H437.31 M401.00,375.50 H467.63 M401.00,372.50 V378.50 M467.63,372.50 V378.50 M431.01,372.20 L437.61,378.80 M431.01,378.80 L437.61,372.20 M431.01,375.50 H437.61 M434.31,372.20 V378.80" stroke="#1c1c1c" stroke-width="1.75"/>
<path d="M68.58,94.99 L68.67,95.37 L68.76,95.76 L68.85,96.17 L68.95,96.60 L69.05,97.05 L69.16,97.51 L69.27,97.99 L69.39,98.48 L69.51,98.98 L69.63,99.50 L69.76,100.04 L69.90,100.58 L70.04,101.14 L70.18,101.71 L70.33,102.30 L70.49,102.89 L70.64,103.49 L70.81,104.11 L70.97,104.73 L71.15,105.37 L71.32,106.01 L71.50,106.67 L71.69,107.33 L71.88,108.00 L72.07,108.67 L72.27,109.36 L72.48,110.05 L72.69,110.74 L72.90,111.45 L73.12,112.16 L73.34,112.87 L73.57,113.60 L73.80,114.32 L74.03,115.05 L74.28,115.79 L74.52,116.53 L74.77,117.27 L75.03,118.02 L75.29,118.77 L75.55,119.53 L75.82,120.28 L76.09,121.05 L76.37,121.81 L76.65,122.58 L76.94,123.34 L77.23,124.12 L77.53,124.89 L77.83,125.66 L78.13,126.44 L78.44,127.22 L78.76,128.00 L79.07,128.78 L79.40,129.56 L79.73,130.35 L80.06,131.13 L80.40,131.92 L80.74,132.71 L81.09,133.49 L81.44,134.28 L81.79,135.07 L82.15,135.86 L82.52,136.65 L82.89,137.44 L83.26,138.23 L83.64,139.02 L84.03,139.81 L84.41,140.60 L84.81,141.39 L85.20,142.18 L85.61,142.97 L86.01,143.76 L86.42,144.55 L86.84,145.34 L87.26,146.13 L87.68,146.91 L88.11,147.70 L88.55,148.49 L88.99,149.28 L89.43,150.06 L89.88,150.85 L90.33,151.64 L90.79,152.42 L91.25,153.20 L91.72,153.99 L92.19,154.77 L92.66,155.55 L93.14,156.33 L93.63,157.12 L94.12,157.89 L94.61,158.67 L95.11,159.45 L95.61,160.23 L96.12,161.01 L96.63,161.78 L97.15,162.56 L97.67,163.33 L98.20,164.10 L98.73,164.88 L99.26,165.65 L99.80,166.42 L100.35,167.19 L100.90,167.96 L101.45,168.72 L102.01,169.49 L102.57,170.26 L103.14,171.02 L103.71,171.78 L104.29,172.55 L104.87,173.31 L105.46,174.07 L106.05,174.83 L106.64,175.59 L107.24,176.35 L107.85,177.10 L108.45,177.86 L109.07,178.61 L109.69,179.37 L110.31,180.12 L110.94,180.87 L111.57,181.62 L112.21,182.37 L112.85,183.12 L113.49,183.86 L114.14,184.60 L114.80,185.35 L115.46,186.09 L116.12,186.83 L116.79,187.56 L117.46,188.30 L118.14,189.03 L118.82,189.76 L119.51,190.49 L120.20,191.22 L120.90,191.94 L121.60,192.66 L122.31,193.38 L123.02,194.10 L123.73,194.82 L124.45,195.53 L125.18,196.24 L125.90,196.95 L126.64,197.66 L127.37,198.36 L128.12,199.06 L128.86,199.76 L129.62,200.46 L130.37,201.15 L131.13,201.84 L131.90,202.53 L132.67,203.22 L133.44,203.90 L134.22,204.58 L135.01,205.26 L135.79,205.94 L136.59,206.61 L137.39,207.28 L138.19,207.95 L138.99,208.61 L139.81,209.27 L140.62,209.93 L141.44,210.58 L142.27,211.24 L143.10,211.89 L143.93,212.53 L144.77,213.18 L145.62,213.82 L146.46,214.46 L147.32,215.09 L148.17,215.73 L149.04,216.36 L149.90,216.98 L150.77,217.61 L151.65,218.23 L152.53,218.85 L153.42,219.46 L154.30,220.07 L155.20,220.68 L156.10,221.29 L157.00,221.89 L157.91,222.49 L158.82,223.09 L159.74,223.68 L160.66,224.27 L161.59,224.86 L162.52,225.44 L163.45,226.03 L164.40,226.61 L165.34,227.18 L166.29,227.75 L167.24,228.32 L168.20,228.89 L169.17,229.46 L170.13,230.02 L171.11,230.57 L172.08,231.13 L173.06,231.68 L174.05,232.23 L175.04,232.78 L176.04,233.32 L177.04,233.86 L178.04,234.40 L179.05,234.93 L180.07,235.47 L181.08,236.00 L182.11,236.52 L183.13,237.05 L184.17,237.57 L185.20,238.09 L186.25,238.60 L187.29,239.11 L188.34,239.62 L189.40,240.13 L190.46,240.64 L191.52,241.14 L192.59,241.64 L193.67,242.13 L194.74,242.63 L195.83,243.12 L196.91,243.61 L198.01,244.09 L199.10,244.58 L200.20,245.06 L201.31,245.54 L202.42,246.01 L203.54,246.48 L204.66,246.95 L205.78,247.42 L206.91,247.89 L208.04,248.35 L209.18,248.81 L210.32,249.27 L211.47,249.73 L212.62,250.18 L213.78,250.63 L214.94,251.08 L216.11,251.53 L217.28,251.97 L218.45,252.41 L219.63,252.85 L220.82,253.29 L222.00,253.72 L223.20,254.15 L224.40,254.58 L225.60,255.01 L226.81,255.44 L228.02,255.86 L229.23,256.28 L230.45,256.70 L231.68,257.11 L232.91,257.53 L234.15,257.94 L235.38,258.35 L236.63,258.76 L237.88,259.16 L239.13,259.56 L240.39,259.96 L241.65,260.36 L242.92,260.76 L244.19,261.15 L245.47,261.55 L246.75,261.94 L248.03,262.32 L249.32,262.71 L250.62,263.09 L251.92,263.47 L253.22,263.85 L254.53,264.23 L255.84,264.61 L257.16,264.98 L258.48,265.35 L259.81,265.72 L261.14,266.09 L262.47,266.46 L263.82,266.82 L265.16,267.18 L266.51,267.54 L267.86,267.90 L269.22,268.25 L270.59,268.61 L271.96,268.96 L273.33,269.31 L274.71,269.66 L276.09,270.01 L277.47,270.35 L278.87,270.69 L280.26,271.03 L281.66,271.37 L283.07,271.71 L284.48,272.04 L285.89,272.38 L287.31,272.71 L288.73,273.04 L290.16,273.37 L291.59,273.69 L293.03,274.02 L294.47,274.34 L295.92,274.66 L297.37,274.98 L298.83,275.30 L300.29,275.62 L301.75,275.93 L303.22,276.24 L304.70,276.55 L306.17,276.86 L307.66,277.17 L309.14,277.47 L310.64,277.78 L312.13,278.08 L313.64,278.38 L315.14,278.68 L316.65,278.98 L318.17,279.27 L319.69,279.57 L321.21,279.86 L322.74,280.15 L324.28,280.44 L325.82,280.73 L327.36,281.01 L328.91,281.30 L330.46,281.58 L332.02,281.86 L333.58,282.14 L335.14,282.42 L336.71,282.70 L338.29,282.97 L339.87,283.25 L341.45,283.52 L343.04,283.79 L344.64,284.06 L346.23,284.33 L347.84,284.59 L349.44,284.86 L351.06,285.12 L352.67,285.38 L354.29,285.65 L355.92,285.90 L357.55,286.16 L359.19,286.42 L360.83,286.67 L362.47,286.93 L364.12,287.18 L365.77,287.43 L367.43,287.68 L369.09,287.93 L370.76,288.17 L372.43,288.42 L374.11,288.66 L375.79,288.90 L377.48,289.14 L379.17,289.38 L380.86,289.62 L382.56,289.86 L384.27,290.09 L385.97,290.33 L387.69,290.56 L389.41,290.79 L391.13,291.02 L392.86,291.25 L394.59,291.48 L396.32,291.71 L398.06,291.93 L399.81,292.16 L401.56,292.38 L403.31,292.60 L405.07,292.82 L406.84,293.04 L408.61,293.26 L410.38,293.47 L412.16,293.69 L413.94,293.90 L415.73,294.11 L417.52,294.32 L419.31,294.53 L421.12,294.74 L422.92,294.95 L424.73,295.16 L426.55,295.36 L428.36,295.57 L430.19,295.77 L432.02,295.97 L433.85,296.17 L435.69,296.37 L437.53,296.57 L439.38,296.77 L441.23,296.96 L443.08,297.16 L444.94,297.35 L446.81,297.55 L448.68,297.74 L450.55,297.93 L452.43,298.12 L454.32,298.30 L456.20,298.49 L458.10,298.68 L459.99,298.86 L461.90,299.05 L463.80,299.23 L465.71,299.41 L467.63,299.59" stroke="#00f" stroke-width="1.9" stroke-dasharray="1.96 1.96 1.96 1.96 1.96 1.96 1.96 3.91"/>
</g>
<text transform="translate(403.80,59.10) scale(1,1.02)" font-size="13.6" text-anchor="end">1.5(σ<tspan font-size="10.6" dy="-6.6">2</tspan><tspan font-size="10.6" dy="11.2">obs</tspan><tspan dy="-4.6">-σ</tspan><tspan font-size="10.6" dy="-6.6">2</tspan><tspan font-size="10.6" dy="11.2">bcg</tspan><tspan dy="-4.6">)/c</tspan></text>
<text transform="translate(403.80,80.40) scale(1,1.02)" font-size="13.6" text-anchor="end">TD</text>
<text transform="translate(403.80,102.70) scale(1,1.02)" font-size="13.6" text-anchor="end">f<tspan font-size="10.6" dy="4.1">R</tspan><tspan dy="-4.1"> TD</tspan></text>
<text transform="translate(403.80,124.50) scale(1,1.02)" font-size="13.6" text-anchor="end">anisotropic TD</text>
<text transform="translate(403.80,146.30) scale(1,1.02)" font-size="13.6" text-anchor="end">f<tspan font-size="10.6" dy="4.1">R</tspan><tspan dy="-4.1"> GR+TD</tspan></text>
<text transform="translate(403.80,168.10) scale(1,1.02)" font-size="13.6" text-anchor="end">GR+TD</text>
<text transform="translate(403.80,189.90) scale(1,1.02)" font-size="13.6" text-anchor="end">Obs. shift</text>
<text transform="translate(403.80,211.70) scale(1,1.02)" font-size="13.6" text-anchor="end">-|<tspan font-family="Liberation Serif" font-size="14.5">Φ</tspan> - <tspan font-family="Liberation Serif" font-size="14.5">Φ</tspan><tspan font-size="10.6" dy="4.1">bcg</tspan><tspan dy="-4.1">|/c</tspan></text>
<path d="M428.65000000000003,51.65 L434.95,57.949999999999996 M428.65000000000003,57.949999999999996 L434.95,51.65" stroke="#f00" stroke-width="1.7" fill="none"/>
<path d="M412.3,76.6 H451.3" stroke="#f00" stroke-width="2" stroke-dasharray="1.96 2.93"/>
<path d="M412.3,98.4 H451.3" stroke="#f0f" stroke-width="2.1"/>
<path d="M412.3,120.2 H451.3" stroke="#ff0" stroke-width="1.8" stroke-dasharray="4.89 1.96 0.98 1.96"/>
<path d="M412.3,142.0 H451.3" stroke="#000" stroke-width="1.55"/>
<path d="M412.3,163.8 H451.3" stroke="#000" stroke-width="1.6" stroke-dasharray="1.96 2.93"/>
<path d="M431.80,185.60 V185.60 M428.80,185.60 H434.80 M428.80,185.60 H434.80 M412.30,185.60 H451.30 M412.30,182.60 V188.60 M451.30,182.60 V188.60 M428.50,182.30 L435.10,188.90 M428.50,188.90 L435.10,182.30 M428.50,185.60 H435.10 M431.80,182.30 V188.90" stroke="#1c1c1c" stroke-width="1.75" fill="none"/>
<path d="M412.3,207.39999999999998 H451.3" stroke="#00f" stroke-width="1.9" stroke-dasharray="1.96 1.96 1.96 1.96 1.96 1.96 1.96 3.91"/>
<path d="M61.4,378.9 H467.55 V15.9 H61.4 V379.5" fill="none" stroke="#000" stroke-width="3.3" stroke-linejoin="miter"/>
<text transform="translate(264.90,417.30) scale(1,1.02)" font-size="13.6" text-anchor="middle">Projected Radius of the Composite Cluster R (Mpc)</text>
<text transform="translate(18.20,342.50) rotate(-90) scale(1,1.02)" font-size="13.6" text-anchor="middle">Blueward</text>
<text transform="translate(18.20,285.30) rotate(-90) scale(1,1.02)" font-size="13.6" text-anchor="middle">&lt;---</text>
<text transform="translate(18.20,209.50) rotate(-90) scale(1,1.02)" font-size="13.6" text-anchor="middle">Shift (km/s)</text>
<text transform="translate(18.20,123.20) rotate(-90) scale(1,1.02)" font-size="13.6" text-anchor="middle">---&gt;</text>
<text transform="translate(18.20,50.50) rotate(-90) scale(1,1.02)" font-size="13.6" text-anchor="middle">Redward</text>
</svg></div></body></html>
